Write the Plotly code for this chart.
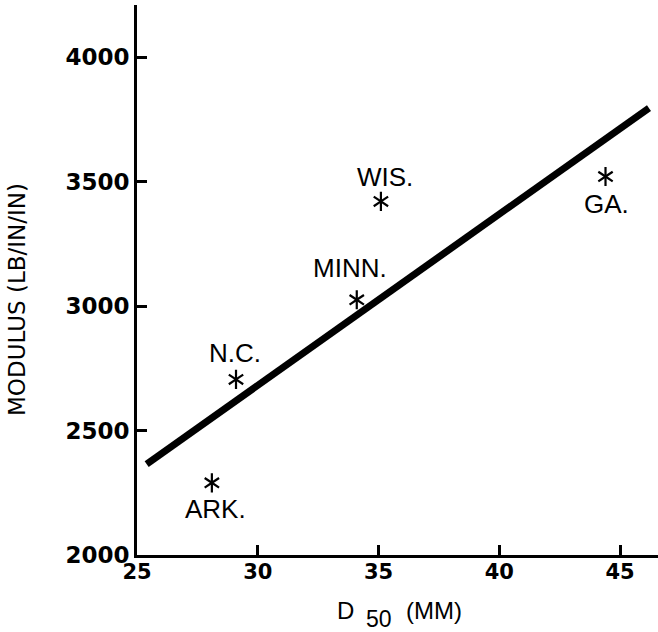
import plotly.graph_objects as go

# Sites: median stone size D50 (mm) and modulus (lb/in/in)
sites = ["ARK.", "N.C.", "MINN.", "WIS.", "GA."]
d50 = [28.1, 29.1, 34.1, 35.1, 44.4]
modulus = [2290, 2705, 3025, 3420, 3520]

# Fitted trend line end points
fit_x = [25.4, 46.2]
fit_y = [2365, 3795]

x_ticks = [25, 30, 35, 40, 45]
y_ticks = [2000, 2500, 3000, 3500, 4000]

# Label placement around each asterisk (pixels)
label_dx = [4, -1, -7, 4, 1]
label_dy = [-26, 26, 32, 24, -27]

W, H = 658, 632
ML, MR, MT, MB = 137, 0, 5, 77
PW, PH = W - ML - MR, H - MT - MB


def to_paper(px, py):
    return (px - ML) / PW, (H - MB - py) / PH


fig = go.Figure()

fig.add_trace(go.Scatter(
    x=fit_x, y=fit_y, mode="lines",
    line=dict(color="black", width=7),
    showlegend=False, hoverinfo="skip",
))

# six-armed asterisk built from two three-armed symbols
for sym in ["y-up-open", "y-down-open"]:
    fig.add_trace(go.Scatter(
        x=d50, y=modulus, mode="markers",
        marker=dict(symbol=sym, size=12, color="black",
                    line=dict(color="black", width=2.2)),
        showlegend=False, hoverinfo="skip",
    ))

for name, xv, yv, dx, dy in zip(sites, d50, modulus, label_dx, label_dy):
    fig.add_annotation(
        x=xv, y=yv, xref="x", yref="y", text=name, showarrow=False,
        xshift=dx, yshift=dy, xanchor="center", yanchor="middle",
        font=dict(family="Liberation Sans", size=26, color="black"),
    )

# axis titles
tx, ty = to_paper(17, 300)
fig.add_annotation(
    x=tx, y=ty, xref="paper", yref="paper", text="MODULUS (LB/IN/IN)",
    textangle=-90, showarrow=False, xanchor="center", yanchor="middle",
    font=dict(family="DejaVu Sans", size=23, color="black"),
)
for txt, px, py, sz in [("D", 345, 610, 24), ("50", 379, 619, 23), ("(MM)", 434, 610, 24)]:
    ax_, ay_ = to_paper(px, py)
    fig.add_annotation(
        x=ax_, y=ay_, xref="paper", yref="paper", text=txt, showarrow=False,
        xanchor="center", yanchor="middle",
        font=dict(family="Liberation Sans", size=sz, color="black"),
    )

tick_font = dict(family="DejaVu Sans", size=23, color="black", weight="bold")

fig.update_xaxes(
    range=[25, 25 + PW / 24.15], tickvals=x_ticks,
    ticktext=[str(v) for v in x_ticks],
    showline=True, linecolor="black", linewidth=3, mirror=False,
    ticks="inside", ticklen=10, tickwidth=3, tickcolor="black",
    showgrid=False, zeroline=False,
    tickfont=dict(family="DejaVu Sans", size=21, color="black", weight="bold"),
    ticklabelstandoff=-4,
)
fig.update_yaxes(
    range=[2000, 2000 + (H - MB - MT) / 0.249], tickvals=y_ticks,
    ticktext=[str(v) for v in y_ticks],
    showline=True, linecolor="black", linewidth=3, mirror=False,
    ticks="inside", ticklen=10, tickwidth=3, tickcolor="black",
    showgrid=False, zeroline=False, tickfont=tick_font,
    ticklabelstandoff=0,
)

fig.update_layout(
    width=W, height=H,
    margin=dict(l=ML, r=MR, t=MT, b=MB, pad=0),
    paper_bgcolor="white", plot_bgcolor="white",
    showlegend=False,
)

fig.write_html("out.html")
